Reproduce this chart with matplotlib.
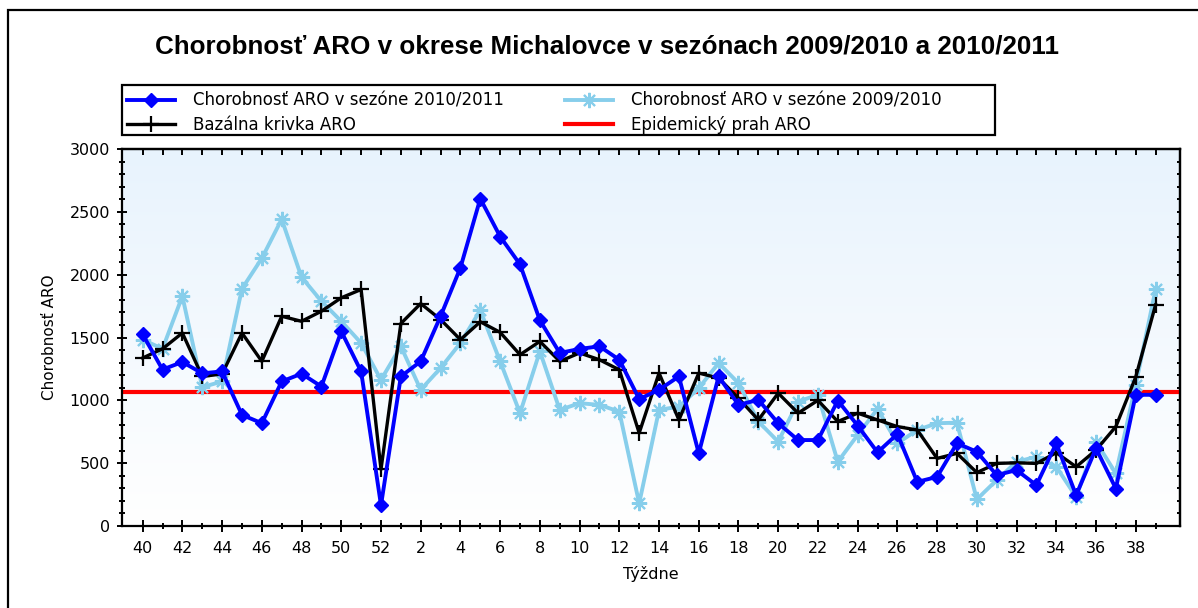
import numpy as np
import matplotlib
matplotlib.use("Agg")
import matplotlib.pyplot as plt
from matplotlib.ticker import MultipleLocator, FixedLocator, NullFormatter
from matplotlib.patches import Rectangle
from matplotlib.colors import LinearSegmentedColormap
from matplotlib import font_manager

# ---------------- data ----------------
weeks = list(range(40, 53)) + list(range(1, 40))

season_2010_2011 = [1525, 1245, 1305, 1215, 1230, 884, 818, 1150, 1212, 1110,
                    1549, 1230, 165, 1190, 1310, 1669, 2055, 2605, 2303, 2082,
                    1637, 1377, 1409, 1430, 1323, 1010, 1084, 1190, 578, 1190,
                    964, 1004, 818, 684, 684, 998, 799, 586, 732, 351,
                    391, 658, 591, 405, 445, 325, 658, 245, 618, 298,
                    1044, 1044]

baseline = [1337, 1410, 1536, 1190, 1210, 1536, 1310, 1669, 1629, 1709,
            1816, 1882, 450, 1611, 1770, 1643, 1483, 1625, 1541, 1363,
            1469, 1310, 1377, 1323, 1243, 740, 1217, 844, 1217, 1177,
            1017, 844, 1057, 898, 1000, 831, 898, 844, 791, 764,
            538, 578, 425, 498, 503, 498, 583, 471, 604, 791,
            1185, 1760]

season_2009_2010 = [1483, 1410, 1829, 1105, 1150, 1888, 2130, 2441, 1980, 1789,
                    1629, 1456, 1163, 1430, 1084, 1257, 1456, 1717, 1310, 898,
                    1390, 924, 977, 964, 910, 180, 924, 950, 1097, 1297,
                    1137, 831, 671, 990, 1044, 511, 724, 932, 658, 764,
                    818, 822, 212, 365, 511, 551, 471, 232, 671, 418,
                    1124, 1882]

epidemic_threshold = 1065

title = "Chorobnosť ARO v okrese Michalovce v sezónach 2009/2010 a 2010/2011"
labels = ["Chorobnosť ARO v sezóne 2010/2011", "Bazálna krivka ARO",
          "Chorobnosť ARO v sezóne 2009/2010", "Epidemický prah ARO"]
xlabel = "Týždne"
ylabel = "Chorobnosť ARO"

# ---------------- figure ----------------
W, H = 1198, 608
DPI = 100
plt.rcParams['font.family'] = ['DejaVu Sans']
fig = plt.figure(figsize=(W / DPI, H / DPI), dpi=DPI)
fig.patch.set_facecolor('white')

def px(x0, y0, x1, y1):
    """pixel box (top-left origin) -> figure fraction [l, b, w, h]"""
    return [x0 / W, 1 - y1 / H, (x1 - x0) / W, (y1 - y0) / H]

# outer frame
fig.patches.append(Rectangle((8 / W, -0.1), 1.2, 1 - 10 / H + 0.1,
                             transform=fig.transFigure, fill=False,
                             edgecolor='black', linewidth=1.6, zorder=0))

ax = fig.add_axes(px(122, 149, 1180, 526))

x = np.arange(len(weeks))

# background gradient
cmap = LinearSegmentedColormap.from_list('bg', ['#FFFFFF', '#E8F3FD'])
grad = np.linspace(0, 1, 256).reshape(-1, 1)
ax.imshow(grad, cmap=cmap, origin='lower', extent=[0, 1, 0, 1],
          transform=ax.transAxes, aspect='auto', zorder=0)

l_red = ax.axhline(epidemic_threshold, color='#FF0000', lw=3.0, zorder=2)
l_light, = ax.plot(x, season_2009_2010, color='#87CEEB', lw=2.8,
                   marker=(8, 2, 0), ms=11, mew=1.5, zorder=3)
l_black, = ax.plot(x, baseline, color='black', lw=2.4,
                   marker='+', ms=12, mew=1.6, zorder=4)
l_blue, = ax.plot(x, season_2010_2011, color='#0000FF', lw=2.8,
                  marker='D', ms=7.5, zorder=5)

ax.set_xlim(-1.04, 52.23)
ax.set_ylim(0, 3000)

# ticks
major_idx = list(range(0, len(weeks), 2))
ax.xaxis.set_major_locator(FixedLocator(major_idx))
ax.set_xticklabels([str(weeks[i]) for i in major_idx])
ax.xaxis.set_minor_locator(FixedLocator(list(range(len(weeks)))))
ax.yaxis.set_major_locator(MultipleLocator(500))
ax.yaxis.set_minor_locator(MultipleLocator(100))

ax.tick_params(axis='x', which='major', direction='inout', length=8.6,
               width=1.4, pad=6.5, labelsize=11.5)
ax.tick_params(axis='x', which='minor', direction='inout', length=4.3, width=1.4)
ax.tick_params(axis='y', which='major', direction='inout', length=7.2,
               width=1.4, pad=5, labelsize=11.5)
ax.tick_params(axis='y', which='minor', direction='inout', length=5, width=1.4)

for s in ax.spines.values():
    s.set_linewidth(1.6)

# top and right tick marks
secx = ax.secondary_xaxis('top')
secx.xaxis.set_major_locator(FixedLocator(list(range(len(weeks)))))
secx.xaxis.set_major_formatter(NullFormatter())
secx.tick_params(direction='in', length=4.3, width=1.4)
secx.spines['top'].set_linewidth(1.6)
secy = ax.secondary_yaxis('right')
secy.yaxis.set_major_locator(MultipleLocator(100))
secy.yaxis.set_major_formatter(NullFormatter())
secy.tick_params(direction='in', length=2.5, width=1.4)
secy.spines['right'].set_linewidth(1.6)

ax.set_xlabel(xlabel, fontsize=11.5, labelpad=7)
ax.set_ylabel(ylabel, fontsize=11, labelpad=9)

# title, fitted to its width in the reference
avail = {f.name for f in font_manager.fontManager.ttflist}
tfam = 'Liberation Sans Narrow' if 'Liberation Sans Narrow' in avail else 'Liberation Sans'
renderer = fig.canvas.get_renderer()
t = fig.text(607 / W, 1 - 46 / H, title, ha='center', va='center',
             fontsize=17, fontweight='bold', family=tfam)
wpx = t.get_window_extent(renderer).width
t.set_fontsize(min(17 * 905 / wpx, 19.5))

# legend: box drawn as a rectangle, entries placed without frame
lfs = 12
lfs_px = lfs * DPI / 72
tmp = fig.text(0, 0, labels[0], fontsize=lfs)
tw1 = tmp.get_window_extent(renderer).width
tmp.remove()
hl_px, htp_px = 48, 18
colsp = (565 - 127 - hl_px - htp_px - tw1) / lfs_px

fig.patches.append(Rectangle((122 / W, 1 - 135 / H), (995 - 122) / W, 50 / H,
                             transform=fig.transFigure, facecolor='white',
                             edgecolor='black', linewidth=1.6, zorder=3))
leg = fig.legend([l_blue, l_black, l_light, l_red], labels, ncol=2,
                 loc='upper left', bbox_to_anchor=(127 / W, 1 - 91.5 / H),
                 bbox_transform=fig.transFigure, fontsize=lfs, frameon=False,
                 borderpad=0, borderaxespad=0,
                 handlelength=hl_px / lfs_px, handletextpad=htp_px / lfs_px,
                 labelspacing=0.4, columnspacing=colsp)
leg.set_zorder(5)

fig.savefig('out.png', dpi=DPI)
